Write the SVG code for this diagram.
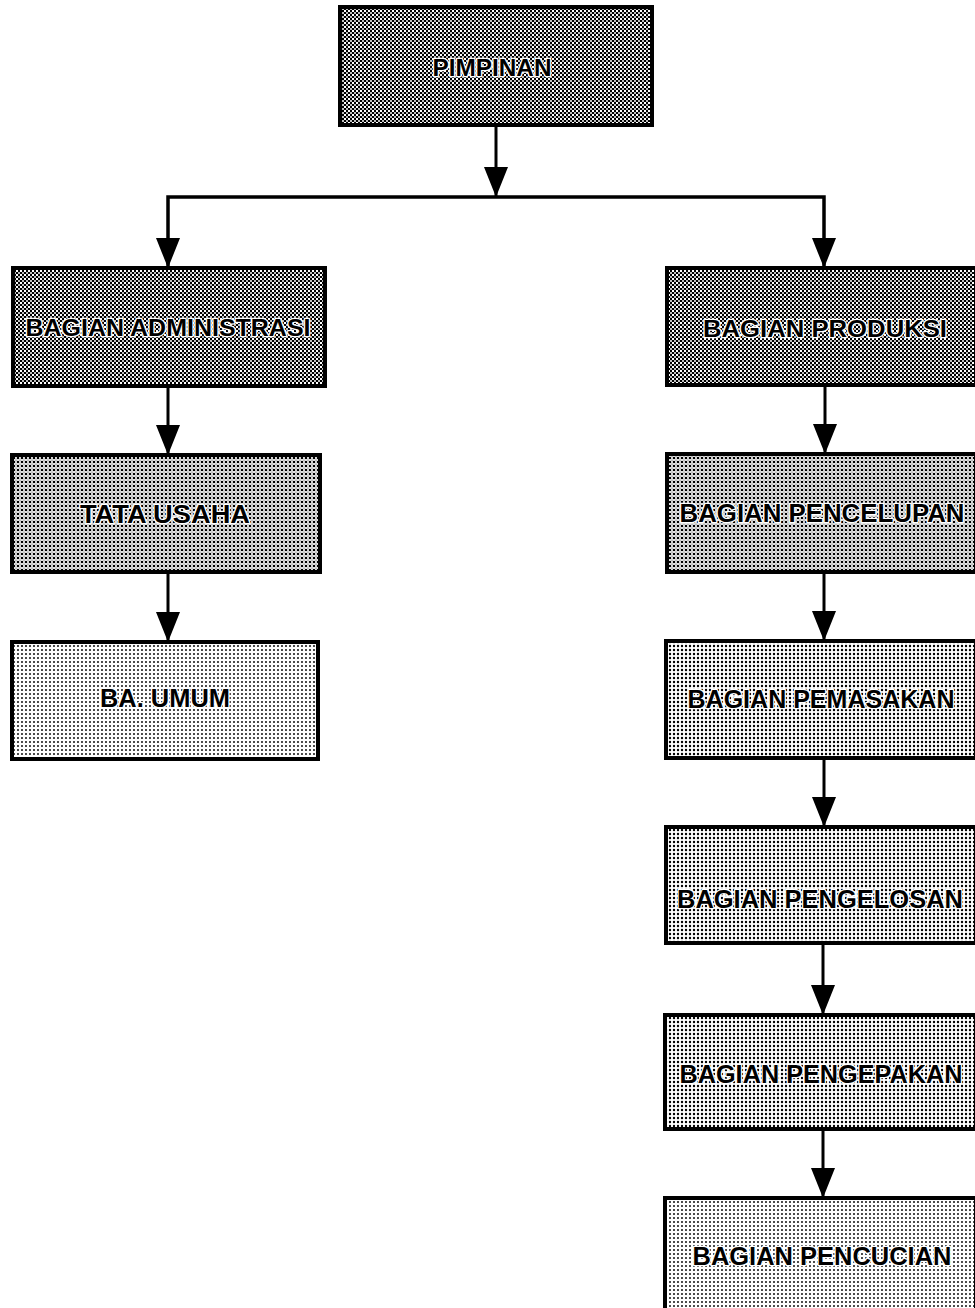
<svg xmlns="http://www.w3.org/2000/svg" width="975" height="1308" viewBox="0 0 975 1308">
<style>
.box{stroke:#000;stroke-width:4}
.t{font-family:"Liberation Sans",Arial,sans-serif;font-weight:bold;text-anchor:middle;fill:#000;stroke:#fff;stroke-width:2.5;paint-order:stroke;stroke-linejoin:round}
.t1{font-size:23px}
.t2{font-size:25px}
.c{fill:none;stroke:#000;stroke-width:3}
</style>
<defs>
<pattern id="p1" width="4" height="4" patternUnits="userSpaceOnUse">
<rect width="4" height="4" fill="#fff"/>
<rect x="0" y="0" width="2" height="2" fill="#000"/>
<rect x="2" y="2" width="2" height="2" fill="#000"/>
<rect x="2" y="0" width="2" height="2" fill="#444" opacity="0.35"/>
</pattern>
<pattern id="p2" width="4" height="4" patternUnits="userSpaceOnUse">
<rect width="4" height="4" fill="#fff"/>
<circle cx="2" cy="2" r="1.35" fill="#000"/>
<circle cx="0" cy="0" r="0.6" fill="#000"/>
<circle cx="4" cy="0" r="0.6" fill="#000"/>
<circle cx="0" cy="4" r="0.6" fill="#000"/>
<circle cx="4" cy="4" r="0.6" fill="#000"/>
</pattern>
<pattern id="p3" width="4" height="4" patternUnits="userSpaceOnUse">
<rect width="4" height="4" fill="#fff"/>
<circle cx="2" cy="2" r="1.2" fill="#000"/>
</pattern>
<pattern id="p4" width="4" height="4" patternUnits="userSpaceOnUse">
<rect width="4" height="4" fill="#fff"/>
<circle cx="2" cy="2" r="0.95" fill="#000"/>
</pattern>
<marker id="ah" viewBox="0 0 30 24" refX="30" refY="12" markerWidth="30" markerHeight="24" markerUnits="userSpaceOnUse" orient="auto">
<path d="M0,0 L30,12 L0,24 Z" fill="#000"/>
</marker>
</defs>
<rect width="975" height="1308" fill="#fff"/>
<g id="connectors">
<path class="c" d="M496,125 V197" marker-end="url(#ah)"/>
<path class="c" d="M496,197 H168 V268" marker-end="url(#ah)" style="stroke-width:3.5"/>
<path class="c" d="M496,197 H824 V268" marker-end="url(#ah)" style="stroke-width:3.5"/>
<path class="c" d="M168,386 V455" marker-end="url(#ah)"/>
<path class="c" d="M168,572 V642" marker-end="url(#ah)"/>
<path class="c" d="M825,385 V454" marker-end="url(#ah)"/>
<path class="c" d="M824,572 V641" marker-end="url(#ah)"/>
<path class="c" d="M824,758 V827" marker-end="url(#ah)"/>
<path class="c" d="M823,943 V1015" marker-end="url(#ah)"/>
<path class="c" d="M823,1129 V1198" marker-end="url(#ah)"/>
</g>
<g id="pimpinan">
<rect class="box" x="340" y="7" width="312" height="118" fill="url(#p1)"/>
<text class="t t1" x="492" y="76" textLength="119" lengthAdjust="spacingAndGlyphs">PIMPINAN</text>
</g>
<g id="bagian-administrasi">
<rect class="box" x="13" y="268" width="312" height="118" fill="url(#p1)"/>
<text class="t t1" x="168" y="336" textLength="285" lengthAdjust="spacingAndGlyphs">BAGIAN ADMINISTRASI</text>
</g>
<g id="bagian-produksi">
<rect class="box" x="667" y="268" width="309" height="117" fill="url(#p1)"/>
<text class="t t1" x="825" y="337" textLength="244" lengthAdjust="spacingAndGlyphs">BAGIAN PRODUKSI</text>
</g>
<g id="tata-usaha">
<rect class="box" x="12" y="455" width="308" height="117" fill="url(#p2)"/>
<text class="t t2" x="165" y="523" textLength="170" lengthAdjust="spacingAndGlyphs">TATA USAHA</text>
</g>
<g id="ba-umum">
<rect class="box" x="12" y="642" width="306" height="117" fill="url(#p4)"/>
<text class="t t2" x="165" y="707" textLength="130" lengthAdjust="spacingAndGlyphs">BA. UMUM</text>
</g>
<g id="bagian-pencelupan">
<rect class="box" x="667" y="454" width="309" height="118" fill="url(#p2)"/>
<text class="t t2" x="822" y="522" textLength="285" lengthAdjust="spacingAndGlyphs">BAGIAN PENCELUPAN</text>
</g>
<g id="bagian-pemasakan">
<rect class="box" x="666" y="641" width="310" height="117" fill="url(#p3)"/>
<text class="t t2" x="821" y="708" textLength="267" lengthAdjust="spacingAndGlyphs">BAGIAN PEMASAKAN</text>
</g>
<g id="bagian-pengelosan">
<rect class="box" x="666" y="827" width="310" height="116" fill="url(#p3)"/>
<text class="t t2" x="820" y="908" textLength="286" lengthAdjust="spacingAndGlyphs">BAGIAN PENGELOSAN</text>
</g>
<g id="bagian-pengepakan">
<rect class="box" x="665" y="1015" width="311" height="114" fill="url(#p3)"/>
<text class="t t2" x="821" y="1083" textLength="283" lengthAdjust="spacingAndGlyphs">BAGIAN PENGEPAKAN</text>
</g>
<g id="bagian-pencucian">
<rect class="box" x="665" y="1198" width="311" height="122" fill="url(#p4)"/>
<text class="t t2" x="822" y="1265" textLength="259" lengthAdjust="spacingAndGlyphs">BAGIAN PENCUCIAN</text>
</g>
</svg>
